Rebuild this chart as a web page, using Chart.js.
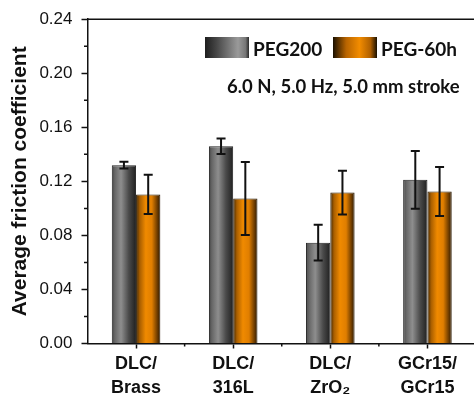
<!DOCTYPE html>
<html>
<head>
<meta charset="utf-8">
<script src="https://cdn.jsdelivr.net/npm/chart.js@4.4.1/dist/chart.umd.min.js"></script>
<style>
  html, body { margin: 0; padding: 0; background: #fff; overflow: hidden; width: 474px; height: 394px; }
  canvas { display: block; }
</style>
</head>
<body>
<canvas id="c" width="478" height="394"></canvas>
<script>
'use strict';
// friction coefficient per couple, two lubricants
const CATS = [['DLC/', 'Brass'], ['DLC/', '316L'], ['DLC/', 'ZrO\u2082'], ['GCr15/', 'GCr15']];
const PEG200 = [0.132, 0.146, 0.0746, 0.1211];
const PEG200_ERR = [0.0025, 0.0058, 0.0132, 0.0213];
const PEG60H = [0.1103, 0.1073, 0.1117, 0.1125];
const PEG60H_ERR = [0.0145, 0.027, 0.0162, 0.0182];
const Y_TICKS = [0, 0.04, 0.08, 0.12, 0.16, 0.20, 0.24];
const SERIES = ['PEG200', 'PEG-60h'];
const NOTE = '6.0 N, 5.0 Hz, 5.0 mm stroke';

const GRAY = [[0, '#444'], [0.12, '#666'], [0.38, '#8e8e8e'], [0.7, '#4a4a4a'], [0.9, '#2e2e2e'], [1, '#1e1e1e']];
const ORANGE = [[0, '#3a2200'], [0.15, '#a85e00'], [0.4, '#f08a00'], [0.65, '#e07e00'], [0.88, '#6a3a00'], [1, '#2a1800']];
const GRAY_KEY = [[0, '#1e1e1e'], [0.25, '#444'], [0.75, '#9a9a9a'], [0.92, '#777'], [1, '#2a2a2a']];
const ORANGE_KEY = [[0, '#1a1000'], [0.3, '#b86400'], [0.6, '#f28c00'], [0.85, '#b06000'], [1, '#1a1000']];
const FILLS = [GRAY, ORANGE];

function grad(ctx, x0, x1, stops) {
  const g = ctx.createLinearGradient(x0, 0, x1, 0);
  stops.forEach(([o, col]) => g.addColorStop(o, col));
  return g;
}

const ERRS = [PEG200_ERR, PEG60H_ERR];

const extras = {
  id: 'extras',
  beforeDatasetsDraw(chart) {
    // shade every bar with a horizontal gradient once its geometry is known
    chart.data.datasets.forEach((ds, di) => {
      chart.getDatasetMeta(di).data.forEach((bar) => {
        const x0 = bar.x - bar.width / 2;
        bar.options = Object.assign({}, bar.options, { backgroundColor: grad(chart.ctx, x0, x0 + bar.width, FILLS[di]) });
      });
    });
  },
  afterDatasetsDraw(chart) {
    const ctx = chart.ctx, ys = chart.scales.y;
    ctx.save();
    ctx.strokeStyle = '#111';
    ctx.lineWidth = 2;
    chart.data.datasets.forEach((ds, di) => {
      chart.getDatasetMeta(di).data.forEach((bar, i) => {
        const v = ds.data[i], e = ERRS[di][i];
        const yt = ys.getPixelForValue(v + e), yb = ys.getPixelForValue(v - e);
        ctx.beginPath();
        ctx.moveTo(bar.x, yt); ctx.lineTo(bar.x, yb);
        ctx.moveTo(bar.x - 4.5, yt); ctx.lineTo(bar.x + 4.5, yt);
        ctx.moveTo(bar.x - 4.5, yb); ctx.lineTo(bar.x + 4.5, yb);
        ctx.stroke();
      });
    });
    ctx.restore();
  },
  afterDraw(chart) {
    const ctx = chart.ctx, a = chart.chartArea, ys = chart.scales.y, xs = chart.scales.x;
    ctx.save();
    ctx.strokeStyle = '#111';
    ctx.lineWidth = 1.5;
    ctx.beginPath();
    ctx.moveTo(a.left, a.top); ctx.lineTo(a.right, a.top); ctx.lineTo(a.right, a.bottom);
    // minor y ticks half way between major ones
    for (let i = 0; i < Y_TICKS.length - 1; i++) {
      const y = ys.getPixelForValue((Y_TICKS[i] + Y_TICKS[i + 1]) / 2);
      ctx.moveTo(a.left - 3.5, y); ctx.lineTo(a.left, y);
    }
    // small x ticks between couples
    for (let i = 0; i < CATS.length - 1; i++) {
      const x = (xs.getPixelForValue(i) + xs.getPixelForValue(i + 1)) / 2;
      ctx.moveTo(x, a.bottom); ctx.lineTo(x, a.bottom + 3);
    }
    ctx.stroke();

    // legend + test conditions
    const keys = [[205, GRAY_KEY], [333, ORANGE_KEY]];
    ctx.font = 'bold 19px Lato';
    ctx.textBaseline = 'alphabetic';
    keys.forEach(([x, stops], i) => {
      ctx.fillStyle = grad(ctx, x, x + 44, stops);
      ctx.fillRect(x, 37, 44, 21);
      ctx.fillStyle = '#111';
      ctx.fillText(SERIES[i], x + 48, 55.5);
    });
    ctx.font = 'bold 18.5px Lato';
    ctx.fillText(NOTE, 227, 92.5);
    ctx.restore();
  }
};

new Chart(document.getElementById('c'), {
  type: 'bar',
  data: {
    labels: CATS,
    datasets: [
      { label: SERIES[0], data: PEG200, backgroundColor: '#777', borderColor: '#222', borderWidth: 1 },
      { label: SERIES[1], data: PEG60H, backgroundColor: '#e88500', borderColor: '#2a1800', borderWidth: 1 },
    ],
  },
  options: {
    responsive: false,
    animation: false,
    layout: { padding: { top: 19, right: 2, bottom: 0, left: 0 } },
    datasets: { bar: { categoryPercentage: 0.5, barPercentage: 1 } },
    plugins: { legend: { display: false }, tooltip: { enabled: false } },
    scales: {
      x: {
        afterFit: (s) => { s.height = 50.5; },
        grid: { display: true, drawOnChartArea: false, offset: false, tickLength: 5, tickColor: '#111', tickWidth: 1.5 },
        border: { color: '#111', width: 1.5 },
        ticks: { color: '#111', font: { family: 'Liberation Sans, Arial', size: 18, weight: 'bold', lineHeight: 1.3 }, padding: 4, maxRotation: 0 },
      },
      y: {
        min: 0, max: 0.24,
        afterFit: (s) => { s.width = 87.5; },
        afterBuildTicks: (s) => { s.ticks = Y_TICKS.map(v => ({ value: v })); },
        grid: { display: true, drawOnChartArea: false, tickLength: 6, tickColor: '#111', tickWidth: 1.5 },
        border: { color: '#111', width: 1.5 },
        ticks: { color: '#111', font: { family: 'Liberation Sans, Arial', size: 17 }, padding: 9, callback: (v) => v.toFixed(2) },
        title: { display: true, text: 'Average friction coefficient', color: '#111', font: { family: 'Liberation Sans, Arial', size: 21, weight: 'bold' }, padding: { top: 8, bottom: 0 } },
      },
    },
  },
  plugins: [extras],
});
</script>
</body>
</html>
